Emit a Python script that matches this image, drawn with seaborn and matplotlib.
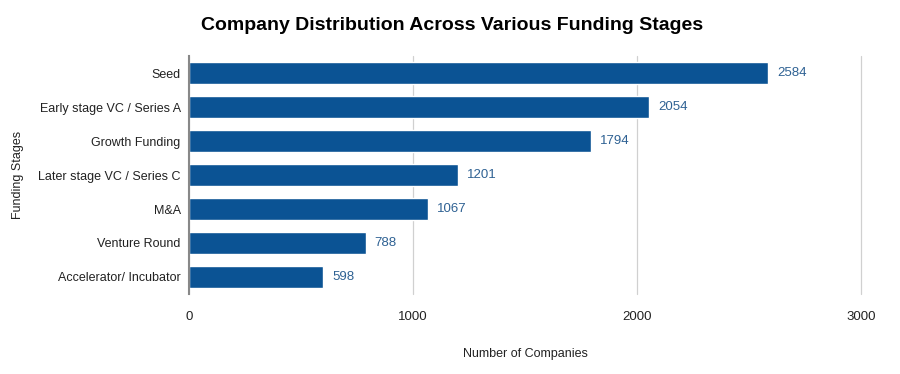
# Company distribution across funding stages - horizontal bar chart
import seaborn as sns
import matplotlib.pyplot as plt
import pandas as pd

stages = ["Seed", "Early stage VC / Series A", "Growth Funding",
          "Later stage VC / Series C", "M&A", "Venture Round",
          "Accelerator/ Incubator"]
companies = [2584, 2054, 1794, 1201, 1067, 788, 598]

df = pd.DataFrame({"stage": stages, "companies": companies})

sns.set_style("white")
plt.rcParams["font.family"] = ["Liberation Sans", "DejaVu Sans"]

fig = plt.figure(figsize=(9, 3.74), dpi=100)
ax = fig.add_axes([0.21, 0.214, 0.747, 0.636])

sns.barplot(data=df, x="companies", y="stage", color="#0b5394",
            saturation=1, width=0.65, ax=ax)

for i, v in enumerate(companies):
    ax.text(v + 40, i, str(v), va="center", ha="left", fontsize=9.5, color="#2e6193")

ax.set_xlim(0, 3000)
ax.set_xticks([0, 1000, 2000, 3000])
ax.xaxis.grid(True, color="#d0d0d0", linewidth=0.9)
for gl in ax.get_xgridlines():
    gl.set_clip_on(False)
ax.set_axisbelow(True)
for s in ["top", "right", "bottom"]:
    ax.spines[s].set_visible(False)
ax.spines["left"].set_color("#888888")
ax.spines["left"].set_linewidth(1.5)
ax.tick_params(axis="both", length=0, labelsize=9.5, colors="#222222")
ax.tick_params(axis="x", pad=12)
ax.tick_params(axis="y", pad=6, labelsize=9)

ax.set_xlabel("Number of Companies", fontsize=9, labelpad=18, color="#222222")
ax.set_ylabel("Funding Stages", fontsize=9, labelpad=10, color="#222222")
fig.suptitle("Company Distribution Across Various Funding Stages",
             fontsize=14, fontweight="bold", x=0.502, y=0.955, color="black")

fig.savefig("out.png", dpi=100)
